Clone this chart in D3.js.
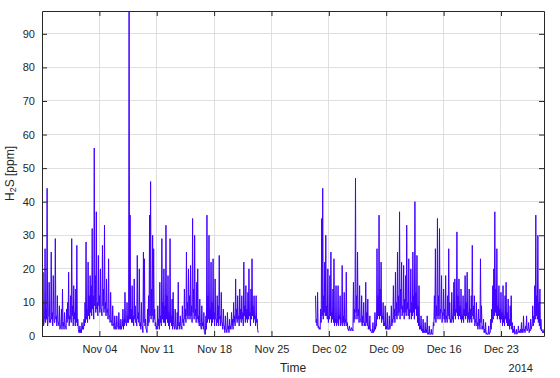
<!DOCTYPE html>
<html>
<head>
<meta charset="utf-8">
<script src="https://cdn.jsdelivr.net/npm/d3@7/dist/d3.min.js"></script>
<style>
  html, body { margin: 0; padding: 0; background: #fff; }
  svg { display: block; font-family: "Liberation Sans", Arial, Helvetica, sans-serif; }
</style>
</head>
<body>
<div id="chart"></div>
<script>
// H2S readings every 3 hours (peaks), plus the trough read between
// each pair of readings.
const stepHours = 3;
const seg1Start = "2014-10-28 00:00";
const seg2Start = "2014-11-30 09:00";

const h2sSeg1 = [
  10, 19, 4, 26, 8, 44, 6, 16,
  5, 25, 7, 18, 4, 29, 6, 12,
  4, 9, 3, 8, 14, 4, 7, 3,
  8, 10, 19, 6, 12, 29, 9, 15,
  7, 14, 27, 5, 1, 3, 2, 4,
  3, 5, 10, 28, 8, 22, 12, 18,
  15, 32, 12, 56, 18, 37, 10, 24,
  12, 20, 8, 27, 14, 33, 10, 17,
  8, 23, 6, 13, 4, 9, 3, 6,
  2, 6, 3, 7, 2, 5, 3, 8,
  5, 13, 4, 10, 6, 96.8, 36, 8,
  15, 6, 17, 9, 5, 24, 7, 20,
  4, 10, 3, 25, 23, 5, 2, 8,
  12, 36, 46, 14, 30, 26, 8, 4,
  3, 9, 5, 16, 6, 29, 10, 20,
  9, 33, 12, 18, 7, 29, 6, 11,
  13, 3, 8, 2, 7, 16, 4, 6,
  3, 9, 5, 14, 8, 25, 10, 20,
  12, 21, 9, 35, 14, 30, 8, 16,
  20, 6, 11, 3, 9, 4, 7, 0.5,
  6, 36, 12, 30, 8, 22, 10, 23,
  7, 17, 5, 12, 9, 24, 6, 13,
  4, 8, 3, 6, 2, 7, 3, 5,
  3, 7, 5, 10, 6, 17, 8, 12,
  6, 14, 8, 12, 7, 22, 9, 15,
  8, 13, 20, 7, 14, 23, 9, 12,
  6, 12, 5, 1
];

const h2sSeg1Lows = [
  5, 3, 6, 4, 5, 3, 6, 4,
  4, 5, 3, 6, 4, 5, 3, 4,
  3, 2, 3, 2, 3, 2, 3, 2,
  4, 5, 3, 5, 4, 6, 3, 5,
  3, 4, 3, 2, 1, 1, 1, 2,
  2, 3, 4, 5, 4, 6, 5, 7,
  6, 8, 5, 9, 7, 8, 6, 9,
  7, 8, 6, 9, 7, 8, 6, 7,
  5, 6, 4, 5, 3, 4, 2, 3,
  2, 3, 2, 3, 2, 2, 3, 2,
  3, 4, 3, 4, 4, 5, 5, 4,
  4, 3, 5, 4, 3, 5, 4, 3,
  2, 3, 1, 4, 3, 2, 1, 3,
  4, 6, 5, 6, 4, 5, 3, 2,
  2, 3, 2, 4, 3, 5, 4, 4,
  3, 5, 4, 3, 2, 4, 3, 2,
  3, 2, 3, 2, 2, 3, 2, 3,
  2, 4, 3, 5, 4, 6, 5, 6,
  5, 6, 4, 7, 5, 6, 4, 5,
  4, 3, 4, 2, 3, 2, 1, 0.5,
  2, 4, 5, 4, 5, 3, 4, 5,
  3, 5, 3, 4, 3, 5, 3, 4,
  2, 3, 1, 2, 1, 2, 1, 2,
  2, 3, 2, 4, 3, 5, 4, 5,
  3, 5, 4, 5, 3, 6, 4, 5,
  4, 5, 6, 3, 5, 6, 4, 5,
  3, 4, 2
];

const h2sSeg2 = [
  12, 5, 13, 3, 2.5, 8, 35, 44, 12, 22,
  30, 9, 20, 6, 18, 25, 7, 14, 23, 5,
  15, 4, 15, 6, 12, 4, 21, 6, 13, 5,
  19, 4, 2, 3, 2, 2.5, 2, 16, 8, 47,
  12, 25, 8, 15, 5, 12, 6, 10, 4, 16,
  7, 11, 3, 6, 2, 1, 4, 1.5, 7, 3,
  26, 12, 36, 14, 22, 6, 10, 4, 9, 3,
  7, 2, 6, 3, 9, 5, 15, 8, 19, 10,
  25, 12, 37, 14, 22, 9, 21, 11, 18, 33,
  10, 23, 8, 20, 10, 25, 12, 40, 13, 24,
  9, 15, 3, 6, 2, 5, 1.5, 4, 2, 6,
  1, 3, 0.5, 2, 0.5, 4, 12, 26, 9, 35,
  12, 32, 8, 18, 7, 14, 8, 18, 6, 12,
  26, 10, 5, 13, 6, 16, 17, 8, 31, 12,
  17, 9, 14, 6, 12, 8, 18, 10, 19, 7,
  14, 8, 12, 27, 9, 12, 5, 10, 4, 8,
  5, 23, 9, 3, 5, 2, 4, 1, 0.5, 3,
  1, 5, 8, 15, 20, 37, 14, 26, 9, 15,
  8, 13, 7, 15, 6, 12, 16, 7, 11, 5,
  9, 12, 4, 2, 3, 1, 2, 1, 3, 1.5,
  2, 4, 2, 6, 2, 3, 6, 2, 4, 2,
  5, 3, 9, 6, 15, 36, 12, 30, 10, 14,
  5, 2, 1.5, 2
];

const h2sSeg2Lows = [
  4, 3, 2.5, 2, 2, 4, 6, 5, 7, 6,
  6, 5, 4, 5, 6, 4, 5, 4, 3, 4,
  3, 4, 3, 5, 3, 4, 3, 4, 3, 4,
  3, 2, 1.5, 2, 1.5, 2, 1.5, 4, 5, 7,
  5, 6, 4, 5, 4, 3, 4, 3, 3, 4,
  3, 2, 2, 1.5, 1, 1, 1, 1.5, 2, 3,
  5, 6, 5, 6, 4, 5, 3, 3, 2, 2,
  2, 2, 2, 3, 3, 4, 5, 4, 6, 5,
  6, 7, 5, 8, 6, 7, 5, 7, 6, 8,
  6, 5, 7, 5, 6, 7, 5, 8, 6, 4,
  3, 2, 2, 1.5, 1, 1, 1, 1, 1, 0.5,
  0.5, 0.5, 0.5, 0.5, 0.5, 3, 5, 4, 6, 5,
  6, 5, 7, 4, 6, 5, 4, 5, 4, 6,
  5, 4, 4, 5, 4, 6, 5, 7, 6, 5,
  6, 5, 4, 5, 4, 6, 5, 6, 4, 5,
  4, 5, 4, 6, 5, 3, 4, 3, 2, 3,
  2, 4, 2, 2, 1, 1, 0.5, 0.5, 0.5, 0.5,
  1, 2, 4, 5, 6, 7, 6, 5, 6, 5,
  4, 5, 3, 4, 3, 5, 4, 3, 3, 2,
  3, 2, 1, 1, 0.5, 1, 0.5, 1, 1, 1,
  1, 1, 1, 1.5, 1, 2, 1.5, 2, 1, 1.5,
  2, 3, 3, 4, 5, 6, 5, 4, 3, 2,
  1.5, 1, 1
];

const xDomain = ["2014-10-28 00:00", "2014-12-28 06:00"];
const xTickDates = ["2014-11-04", "2014-11-11", "2014-11-18", "2014-11-25",
                    "2014-12-02", "2014-12-09", "2014-12-16", "2014-12-23"];
const yMax = 96.8;
const yTicks = [0, 10, 20, 30, 40, 50, 60, 70, 80, 90];

const width = 560, height = 378;
const margin = { top: 11, right: 16, bottom: 42, left: 42 };
const innerW = width - margin.left - margin.right;
const innerH = height - margin.top - margin.bottom;

const parseDT = d3.timeParse("%Y-%m-%d %H:%M");
const parseD = d3.timeParse("%Y-%m-%d");

// reading, then the trough half a step later
function toPoints(start, values, lows) {
  const t0 = parseDT(start);
  const pts = [];
  values.forEach((v, i) => {
    pts.push({ t: d3.timeMinute.offset(t0, i * stepHours * 60), v: v });
    if (i < lows.length) {
      pts.push({ t: d3.timeMinute.offset(t0, i * stepHours * 60 + stepHours * 30), v: lows[i] });
    }
  });
  return pts;
}
const segments = [
  toPoints(seg1Start, h2sSeg1, h2sSeg1Lows),
  toPoints(seg2Start, h2sSeg2, h2sSeg2Lows)
];

const svg = d3.select("#chart").append("svg")
  .attr("width", width)
  .attr("height", height);

const g = svg.append("g")
  .attr("transform", `translate(${margin.left},${margin.top})`);

const x = d3.scaleTime()
  .domain(xDomain.map(parseDT))
  .range([0, innerW]);

const y = d3.scaleLinear()
  .domain([0, yMax])
  .range([innerH, 0]);

const axisColor = "#262626";
const gridColor = "#dfdfdf";

// grid
g.append("g")
  .selectAll("line")
  .data(yTicks.slice(1))
  .enter().append("line")
  .attr("x1", 0).attr("x2", innerW)
  .attr("y1", d => y(d)).attr("y2", d => y(d))
  .attr("stroke", gridColor)
  .attr("shape-rendering", "crispEdges");

g.append("g")
  .selectAll("line")
  .data(xTickDates.map(parseD))
  .enter().append("line")
  .attr("x1", d => x(d)).attr("x2", d => x(d))
  .attr("y1", 0).attr("y2", innerH)
  .attr("stroke", gridColor)
  .attr("shape-rendering", "crispEdges");

// data
svg.append("defs").append("clipPath")
  .attr("id", "plotclip")
  .append("rect")
  .attr("width", innerW)
  .attr("height", innerH);

const line = d3.line()
  .x(d => x(d.t))
  .y(d => y(d.v));

g.append("g")
  .attr("clip-path", "url(#plotclip)")
  .selectAll("path")
  .data(segments)
  .enter().append("path")
  .attr("fill", "none")
  .attr("stroke", "#4000ff")
  .attr("stroke-width", 1)
  .attr("stroke-linejoin", "round")
  .attr("d", line);

// axes (box with inward ticks on all four sides)
function styleAxis(sel) {
  sel.selectAll(".domain").attr("stroke", axisColor);
  sel.selectAll(".tick line").attr("stroke", axisColor);
  sel.selectAll(".tick text")
    .attr("fill", axisColor)
    .style("font-size", "11px");
}

g.append("g")
  .attr("transform", `translate(0,${innerH})`)
  .call(d3.axisBottom(x)
    .tickValues(xTickDates.map(parseD))
    .tickFormat(d3.timeFormat("%b %d"))
    .tickSizeInner(-5)
    .tickSizeOuter(0)
    .tickPadding(9))
  .call(styleAxis);

g.append("g")
  .call(d3.axisTop(x)
    .tickValues(xTickDates.map(parseD))
    .tickFormat("")
    .tickSizeInner(-5)
    .tickSizeOuter(0))
  .call(styleAxis);

g.append("g")
  .call(d3.axisLeft(y)
    .tickValues(yTicks)
    .tickSizeInner(-5)
    .tickSizeOuter(0)
    .tickPadding(7))
  .call(styleAxis);

g.append("g")
  .attr("transform", `translate(${innerW},0)`)
  .call(d3.axisRight(y)
    .tickValues(yTicks)
    .tickFormat("")
    .tickSizeInner(-5)
    .tickSizeOuter(0))
  .call(styleAxis);

// labels
svg.append("text")
  .attr("x", margin.left + innerW / 2)
  .attr("y", 372)
  .attr("text-anchor", "middle")
  .attr("fill", axisColor)
  .style("font-size", "12px")
  .text("Time");

svg.append("text")
  .attr("x", 533)
  .attr("y", 372)
  .attr("text-anchor", "end")
  .attr("fill", axisColor)
  .style("font-size", "11px")
  .text("2014");

const yLab = svg.append("text")
  .attr("transform", `translate(14,${margin.top + innerH / 2}) rotate(-90)`)
  .attr("text-anchor", "middle")
  .attr("fill", axisColor)
  .style("font-size", "12px");
yLab.append("tspan").text("H");
yLab.append("tspan").attr("baseline-shift", "-25%").style("font-size", "9px").text("2");
yLab.append("tspan").text("S [ppm]");
</script>
</body>
</html>
